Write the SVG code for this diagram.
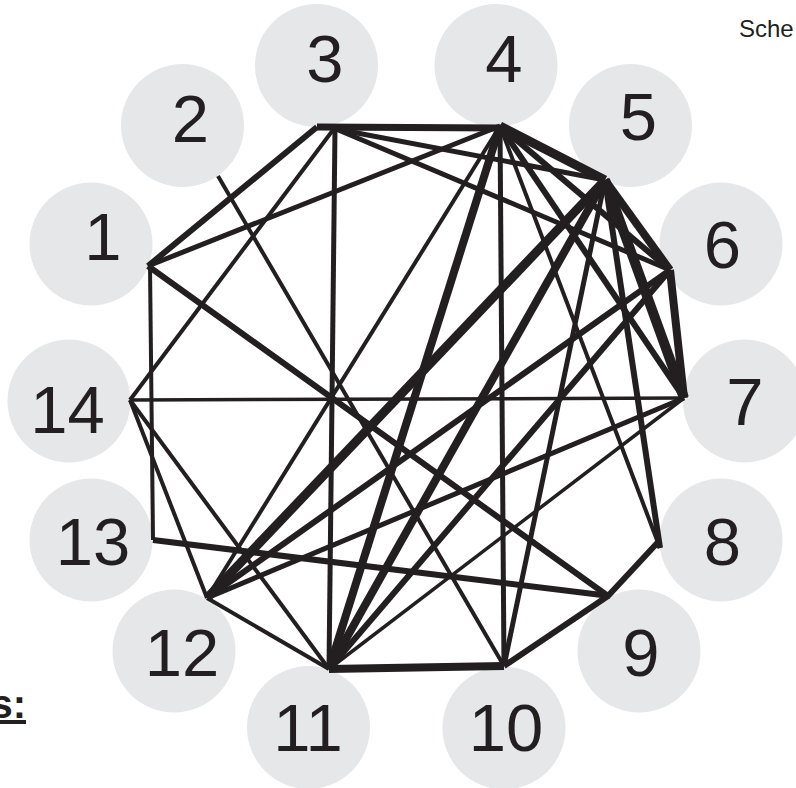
<svg xmlns="http://www.w3.org/2000/svg" width="796" height="788" viewBox="0 0 796 788">
<style>
.node circle{fill:#e6e7e8}
.node text{font-family:"Liberation Sans",Arial,sans-serif;font-size:67px;fill:#231f20;text-anchor:middle}
#links line{stroke:#231f20;stroke-linecap:butt}
.cap{font-family:"Liberation Sans",Arial,sans-serif;fill:#231f20}
</style>
<rect width="796" height="788" fill="#ffffff"/>
<g id="n1" class="node"><circle cx="91" cy="244" r="61.5"/><text x="103" y="260">1</text></g>
<g id="n2" class="node"><circle cx="182.5" cy="125.5" r="61.5"/><text x="190.5" y="142">2</text></g>
<g id="n3" class="node"><circle cx="316.5" cy="65.5" r="61.5"/><text x="325" y="82">3</text></g>
<g id="n4" class="node"><circle cx="496" cy="65.5" r="61.5"/><text x="504" y="82">4</text></g>
<g id="n5" class="node"><circle cx="630.5" cy="125.5" r="61.5"/><text x="638.5" y="140">5</text></g>
<g id="n6" class="node"><circle cx="721" cy="244" r="61.5"/><text x="722.5" y="268">6</text></g>
<g id="n7" class="node"><circle cx="744.5" cy="401" r="61.5"/><text x="745" y="425">7</text></g>
<g id="n8" class="node"><circle cx="721" cy="540" r="61.5"/><text x="722.5" y="565">8</text></g>
<g id="n9" class="node"><circle cx="639" cy="651" r="61.5"/><text x="641" y="676">9</text></g>
<g id="n10" class="node"><circle cx="504" cy="728" r="61.5"/><text x="506" y="751">10</text></g>
<g id="n11" class="node"><circle cx="308.5" cy="727.5" r="61.5"/><text x="308" y="751">11</text></g>
<g id="n12" class="node"><circle cx="174" cy="651" r="61.5"/><text x="182" y="676">12</text></g>
<g id="n13" class="node"><circle cx="91" cy="540" r="61.5"/><text x="93" y="565">13</text></g>
<g id="n14" class="node"><circle cx="69" cy="401" r="61.5"/><text x="67.5" y="433">14</text></g>
<g id="links">
<line x1="317" y1="127" x2="502" y2="128" stroke-width="7"/>
<line x1="317" y1="127" x2="148" y2="266" stroke-width="6"/>
<line x1="333" y1="130" x2="130" y2="400" stroke-width="4"/>
<line x1="335" y1="128" x2="329" y2="669" stroke-width="5"/>
<line x1="336" y1="129" x2="605" y2="180" stroke-width="5"/>
<line x1="336" y1="129" x2="670" y2="270" stroke-width="5"/>
<line x1="148" y1="266" x2="500" y2="126" stroke-width="5"/>
<line x1="150" y1="266" x2="153" y2="540" stroke-width="4"/>
<line x1="148" y1="266" x2="608" y2="596" stroke-width="6"/>
<line x1="218" y1="176" x2="504" y2="666" stroke-width="4"/>
<line x1="130" y1="400" x2="684" y2="398" stroke-width="3.5"/>
<line x1="130" y1="400" x2="207" y2="598" stroke-width="4"/>
<line x1="130" y1="400" x2="329" y2="669" stroke-width="4"/>
<line x1="153" y1="540" x2="610" y2="596" stroke-width="6"/>
<line x1="207" y1="598" x2="329" y2="669" stroke-width="4"/>
<line x1="207" y1="598" x2="500" y2="126" stroke-width="4"/>
<line x1="207" y1="598" x2="605" y2="180" stroke-width="9"/>
<line x1="207" y1="598" x2="670" y2="270" stroke-width="6"/>
<line x1="207" y1="598" x2="684" y2="398" stroke-width="5"/>
<line x1="329" y1="669" x2="504" y2="666" stroke-width="8"/>
<line x1="329" y1="669" x2="500" y2="126" stroke-width="8"/>
<line x1="329" y1="669" x2="605" y2="180" stroke-width="8"/>
<line x1="329" y1="669" x2="670" y2="270" stroke-width="6"/>
<line x1="329" y1="669" x2="684" y2="398" stroke-width="3.5"/>
<line x1="504" y1="666" x2="608" y2="596" stroke-width="6"/>
<line x1="504" y1="666" x2="500" y2="126" stroke-width="5"/>
<line x1="504" y1="666" x2="605" y2="180" stroke-width="5"/>
<line x1="608" y1="596" x2="660" y2="540" stroke-width="6"/>
<line x1="660" y1="548" x2="500" y2="126" stroke-width="4"/>
<line x1="660" y1="548" x2="605" y2="180" stroke-width="6"/>
<line x1="684" y1="398" x2="670" y2="270" stroke-width="8"/>
<line x1="684" y1="398" x2="605" y2="180" stroke-width="10"/>
<line x1="670" y1="270" x2="605" y2="180" stroke-width="8"/>
<line x1="605" y1="180" x2="500" y2="126" stroke-width="9"/>
<line x1="500" y1="126" x2="670" y2="270" stroke-width="6"/>
<line x1="500" y1="126" x2="684" y2="398" stroke-width="6"/>
</g>
<text class="cap" x="739" y="37" font-size="24">Sche</text>
<text class="cap" x="26" y="718" font-size="40" font-weight="bold" text-anchor="end" text-decoration="underline">s:</text>
</svg>
